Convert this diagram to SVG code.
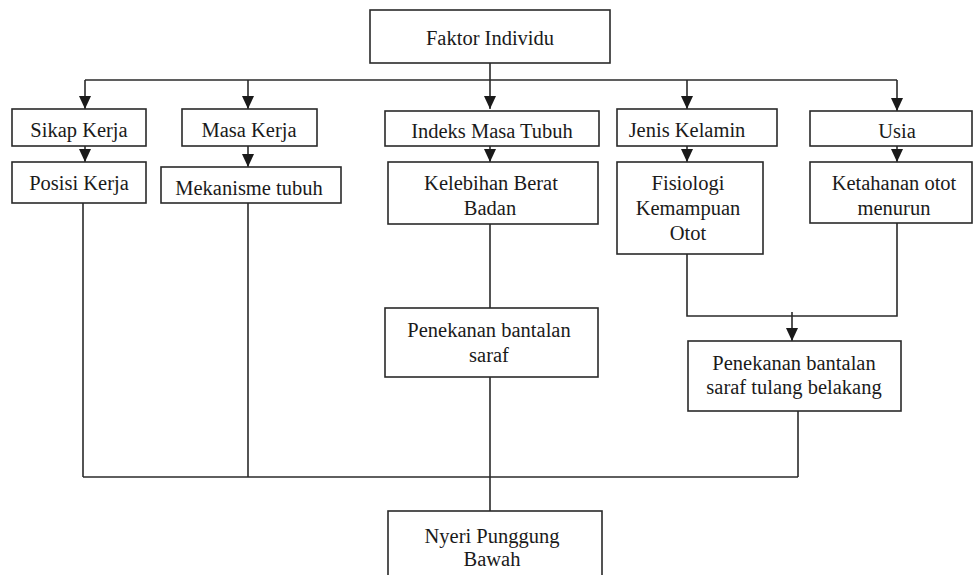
<svg xmlns="http://www.w3.org/2000/svg" width="973" height="575" viewBox="0 0 973 575">
<style>
.box{fill:#fff;stroke:#2a2a2a;stroke-width:1.6}
.ln{fill:none;stroke:#2a2a2a;stroke-width:1.6}
text{font-family:"Liberation Serif","Times New Roman",serif;font-size:20.5px;fill:#1a1a1a;text-anchor:middle}
</style>
<defs>
<marker id="ah" markerUnits="userSpaceOnUse" markerWidth="12" markerHeight="12" viewBox="0 0 12 12" refX="6" refY="12" orient="auto-start-reverse">
<path d="M0,0 L12,0 L6,12 Z" fill="#1a1a1a" transform="rotate(-90 6 6)"/>
</marker>
<marker id="a" markerUnits="userSpaceOnUse" markerWidth="12" markerHeight="13" viewBox="0 0 12 13" refX="13" refY="6" orient="auto">
<path d="M0,0 L13,6 L0,12 Z" fill="#1a1a1a"/>
</marker>
</defs>
<g id="connectors">
<path class="ln" d="M85,80 H897"/>
<path class="ln" d="M490,63 V109" marker-end="url(#a)"/>
<path class="ln" d="M85,80 V109" marker-end="url(#a)"/>
<path class="ln" d="M248,80 V109" marker-end="url(#a)"/>
<path class="ln" d="M687,80 V109" marker-end="url(#a)"/>
<path class="ln" d="M897,80 V111" marker-end="url(#a)"/>
<path class="ln" d="M85,142 V162" marker-end="url(#a)"/>
<path class="ln" d="M248,142 V167" marker-end="url(#a)"/>
<path class="ln" d="M490,142 V162" marker-end="url(#a)"/>
<path class="ln" d="M687,142 V162" marker-end="url(#a)"/>
<path class="ln" d="M897,142 V162" marker-end="url(#a)"/>
<path class="ln" d="M83,198 V477"/>
<path class="ln" d="M248,198 V477"/>
<path class="ln" d="M490,220 V308"/>
<path class="ln" d="M490,372 V511"/>
<path class="ln" d="M687,250 V316 H897 V219"/>
<path class="ln" d="M792,312 V341" marker-end="url(#a)"/>
<path class="ln" d="M798,406 V477"/>
<path class="ln" d="M83,477 H798"/>
</g>
<g id="faktor"><rect class="box" x="370" y="10" width="240" height="53"/><text x="490" y="45">Faktor Individu</text></g>
<g id="sikap"><rect class="box" x="12" y="109" width="134" height="37"/><text x="79" y="137">Sikap Kerja</text></g>
<g id="masa"><rect class="box" x="182" y="109" width="135" height="37"/><text x="249" y="137">Masa Kerja</text></g>
<g id="indeks"><rect class="box" x="385" y="111" width="214" height="35"/><text x="492" y="138">Indeks Masa Tubuh</text></g>
<g id="jenis"><rect class="box" x="617" y="109" width="160" height="37"/><text x="687" y="137">Jenis Kelamin</text></g>
<g id="usia"><rect class="box" x="810" y="111" width="162" height="35"/><text x="897" y="138">Usia</text></g>
<g id="posisi"><rect class="box" x="12" y="162" width="134" height="41"/><text x="79" y="190">Posisi Kerja</text></g>
<g id="mekanisme"><rect class="box" x="161" y="167" width="180" height="36"/><text x="249" y="195">Mekanisme tubuh</text></g>
<g id="kelebihan"><rect class="box" x="388" y="162" width="210" height="62"/><text x="491" y="190">Kelebihan Berat</text><text x="490" y="215">Badan</text></g>
<g id="fisiologi"><rect class="box" x="617" y="162" width="146" height="92"/><text x="688" y="190">Fisiologi</text><text x="688" y="215">Kemampuan</text><text x="688" y="240">Otot</text></g>
<g id="ketahanan"><rect class="box" x="810" y="162" width="162" height="61"/><text x="894" y="190">Ketahanan otot</text><text x="894" y="215">menurun</text></g>
<g id="penekanan1"><rect class="box" x="385" y="308" width="213" height="69"/><text x="489" y="337">Penekanan bantalan</text><text x="489" y="362">saraf</text></g>
<g id="penekanan2"><rect class="box" x="688" y="341" width="213" height="70"/><text x="794" y="370">Penekanan bantalan</text><text x="794" y="394">saraf tulang belakang</text></g>
<g id="nyeri"><rect class="box" x="388" y="511" width="214" height="70"/><text x="492" y="543">Nyeri Punggung</text><text x="492" y="566">Bawah</text></g>
</svg>
